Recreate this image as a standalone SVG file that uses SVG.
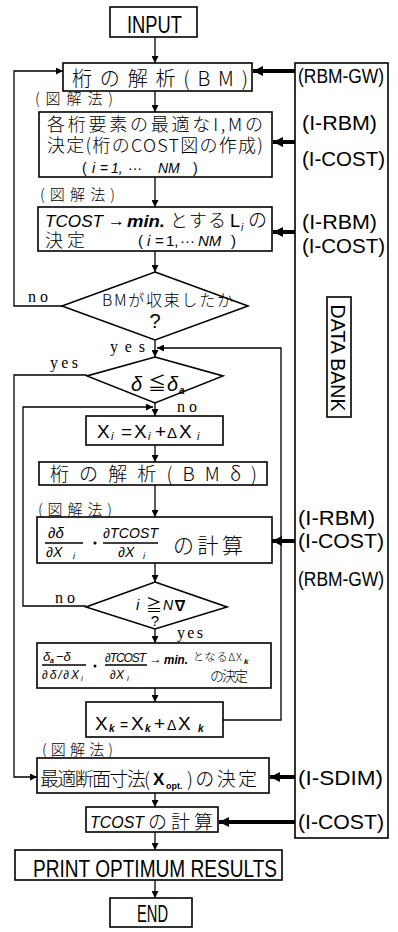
<svg xmlns="http://www.w3.org/2000/svg" width="398" height="932" viewBox="0 0 398 932">
<style>
.box{fill:none;stroke:#000;stroke-width:1.6}
.ln{fill:none;stroke:#000;stroke-width:1.3}
.thk{fill:none;stroke:#000;stroke-width:4}
.t{font-family:"Liberation Sans","Noto Sans CJK JP",sans-serif;fill:#000}
.j{font-family:"Noto Sans CJK JP","Liberation Sans",sans-serif;fill:#000;font-weight:300}
.s{font-family:"Liberation Serif",serif;fill:#000}
.it{font-style:italic}
.bi{font-style:italic;font-weight:bold}
</style>
<defs>
<marker id="a" viewBox="0 0 10 10" refX="10" refY="5" markerWidth="8" markerHeight="7" orient="auto" markerUnits="userSpaceOnUse"><path d="M0,0 L10,5 L0,10 z" fill="#000"/></marker>
<marker id="b" viewBox="0 0 10 10" refX="10" refY="5" markerWidth="10" markerHeight="10" orient="auto" markerUnits="userSpaceOnUse"><path d="M0,0 L10,5 L0,10 z" fill="#000"/></marker>
</defs>

<g id="connectors">
<line class="ln" x1="155" y1="37" x2="155" y2="63" marker-end="url(#a)"/>
<line class="ln" x1="155" y1="91" x2="155" y2="112" marker-end="url(#a)"/>
<line class="ln" x1="155" y1="177" x2="155" y2="207" marker-end="url(#a)"/>
<line class="ln" x1="155" y1="251" x2="155" y2="272" marker-end="url(#a)"/>
<polyline class="ln" points="62,306 14,306 14,71 63,71" marker-end="url(#a)"/>
<line class="ln" x1="155" y1="340" x2="155" y2="357" marker-end="url(#a)"/>
<polyline class="ln" points="223,720 281,720 281,348 157,348" marker-end="url(#a)"/>
<polyline class="ln" points="87,375 14,375 14,777 37,777" marker-end="url(#a)"/>
<line class="ln" x1="155" y1="403" x2="155" y2="416" marker-end="url(#a)"/>
<polyline class="ln" points="86,606 23,606 23,407 153,407" marker-end="url(#a)"/>
<line class="ln" x1="155" y1="445" x2="155" y2="462" marker-end="url(#a)"/>
<line class="ln" x1="155" y1="485" x2="155" y2="517" marker-end="url(#a)"/>
<line class="ln" x1="155" y1="563" x2="155" y2="582" marker-end="url(#a)"/>
<line class="ln" x1="155" y1="629" x2="155" y2="643" marker-end="url(#a)"/>
<line class="ln" x1="155" y1="688" x2="155" y2="702" marker-end="url(#a)"/>
<line class="ln" x1="155" y1="793" x2="155" y2="807" marker-end="url(#a)"/>
<line class="ln" x1="155" y1="832" x2="155" y2="850" marker-end="url(#a)"/>
<line class="ln" x1="155" y1="880" x2="155" y2="898" marker-end="url(#a)"/>
<line class="thk" x1="295" y1="71" x2="253" y2="71" marker-end="url(#b)"/>
<line class="thk" x1="295" y1="142" x2="273" y2="142" marker-end="url(#b)"/>
<line class="thk" x1="295" y1="232" x2="273" y2="232" marker-end="url(#b)"/>
<line class="thk" x1="295" y1="541" x2="272" y2="541" marker-end="url(#b)"/>
<line class="thk" x1="295" y1="777" x2="270" y2="777" marker-end="url(#b)"/>
<line class="thk" x1="295" y1="822" x2="219" y2="822" marker-end="url(#b)"/>
</g>

<g id="input">
<rect class="box" x="110" y="7" width="87" height="30"/>
<text class="t" x="127" y="33" font-size="23" textLength="55" lengthAdjust="spacingAndGlyphs">INPUT</text>
</g>

<g id="bm">
<rect class="box" x="63" y="63" width="189" height="28"/>
<text class="j" x="72" y="86" font-size="20" textLength="176" lengthAdjust="spacing">桁の解析(BM)</text>
</g>

<g id="label1"><text class="j" x="35" y="104" font-size="15" textLength="78" lengthAdjust="spacing">(図解法)</text></g>

<g id="optim-IM">
<rect class="box" x="39" y="112" width="233" height="65"/>
<text class="j" x="47" y="131" font-size="18" textLength="216" lengthAdjust="spacing">各桁要素の最適なI,Mの</text>
<text class="j" x="47" y="152" font-size="18" textLength="216" lengthAdjust="spacing">決定(桁のCOST図の作成)</text>
<text class="t" y="173" font-size="14"><tspan x="82">(</tspan><tspan x="92" class="it">i</tspan><tspan x="100">=</tspan><tspan x="111" class="it">1,</tspan><tspan x="128">···</tspan><tspan x="158" class="it">NM</tspan><tspan x="193">)</tspan></text>
</g>

<g id="label2"><text class="j" x="40" y="200" font-size="15" textLength="75" lengthAdjust="spacing">(図解法)</text></g>

<g id="tcost-min">
<rect class="box" x="38" y="207" width="234" height="44"/>
<text class="t it" x="45" y="227" font-size="17" textLength="58" lengthAdjust="spacingAndGlyphs">TCOST</text>
<text class="t" x="108" y="226" font-size="16" textLength="17" lengthAdjust="spacingAndGlyphs">→</text>
<text class="t bi" x="127" y="227" font-size="17" textLength="38" lengthAdjust="spacingAndGlyphs">min.</text>
<text class="j" x="170" y="227" font-size="18" textLength="56" lengthAdjust="spacing">とする</text>
<text class="t" x="230" y="227" font-size="18">L</text>
<text class="t it" x="241" y="231" font-size="10">i</text>
<text class="j" x="248" y="227" font-size="19">の</text>
<text class="j" x="45" y="247" font-size="18" textLength="40" lengthAdjust="spacing">決定</text>
<text class="t" y="246" font-size="15"><tspan x="138">(</tspan><tspan x="147" class="it">i</tspan><tspan x="155">=</tspan><tspan x="166">1,</tspan><tspan x="180">···</tspan><tspan x="198" class="it">NM</tspan><tspan x="231">)</tspan></text>
</g>

<g id="dec-converge">
<polygon class="box" points="155,272 248,306 155,340 62,306"/>
<text class="j" x="102" y="306" font-size="16" textLength="131" lengthAdjust="spacing">BMが収束したか</text>
<text class="t" x="155" y="328" font-size="20" text-anchor="middle">?</text>
<text class="s" x="28" y="302" font-size="16" textLength="20" lengthAdjust="spacing">no</text>
<text class="s" x="110" y="352" font-size="16" textLength="35" lengthAdjust="spacing">yes</text>
</g>

<g id="dec-delta">
<polygon class="box" points="155,357 223,376 155,403 87,376"/>
<text class="t it" x="131" y="391" font-size="20">δ</text>
<text class="t" x="148" y="390" font-size="18">≦</text>
<text class="t it" x="167" y="391" font-size="20">δ</text>
<text class="t it bi" x="179" y="394" font-size="10">a</text>
<text class="s" x="50" y="368" font-size="16" textLength="28" lengthAdjust="spacing">yes</text>
<text class="s" x="177" y="412" font-size="16" textLength="20" lengthAdjust="spacing">no</text>
</g>

<g id="xi-update">
<rect class="box" x="86" y="416" width="137" height="29"/>
<text class="t" y="438" font-size="19"><tspan x="97">X</tspan><tspan x="111" dy="2" font-size="11" class="it">i</tspan><tspan x="121" dy="-2">=</tspan><tspan x="134">X</tspan><tspan x="148" dy="2" font-size="11" class="it">i</tspan><tspan x="155" dy="-2">+</tspan><tspan x="167" font-size="15">Δ</tspan><tspan x="179">X</tspan><tspan x="197" dy="2" font-size="11" class="it">i</tspan></text>
</g>

<g id="bm-delta">
<rect class="box" x="39" y="462" width="228" height="23"/>
<text class="j" x="50" y="481" font-size="19" textLength="207" lengthAdjust="spacing">桁の解析(BMδ)</text>
</g>

<g id="label3"><text class="j" x="38" y="515" font-size="15" textLength="74" lengthAdjust="spacing">(図解法)</text></g>

<g id="sensitivity">
<rect class="box" x="37" y="517" width="235" height="46"/>
<text class="t it" x="48" y="538" font-size="15">∂δ</text>
<line class="ln" x1="45" y1="543" x2="83" y2="543" stroke-width="1"/>
<text class="t it" x="46" y="557" font-size="14">∂X</text>
<text class="t it" x="73" y="559" font-size="9">i</text>
<circle cx="95" cy="543" r="1.6" fill="#000"/>
<text class="t it" x="103" y="538" font-size="14" textLength="55" lengthAdjust="spacing">∂TCOST</text>
<line class="ln" x1="103" y1="543" x2="158" y2="543" stroke-width="1"/>
<text class="t it" x="118" y="557" font-size="14">∂X</text>
<text class="t it" x="143" y="559" font-size="9">i</text>
<text class="j" x="173" y="553" font-size="21" textLength="70" lengthAdjust="spacing">の計算</text>
</g>

<g id="dec-count">
<polygon class="box" points="155,582 227,607 155,629 86,607"/>
<text class="t it" x="136" y="610" font-size="15">i</text>
<text class="t" x="146" y="611" font-size="16">≧</text>
<text class="t it" x="163" y="610" font-size="14">N</text>
<text class="t" x="173" y="610" font-size="14" font-weight="bold">∇</text>
<text class="t" x="155" y="626" font-size="15" text-anchor="middle">?</text>
<text class="s" x="55" y="603" font-size="16" textLength="20" lengthAdjust="spacing">no</text>
<text class="s" x="177" y="638" font-size="16" textLength="26" lengthAdjust="spacing">yes</text>
</g>

<g id="step-size">
<rect class="box" x="37" y="643" width="234" height="45"/>
<text class="t it" x="43" y="661" font-size="13">δ</text>
<text class="t it bi" x="50" y="663" font-size="7">a</text>
<text class="t it" x="56" y="661" font-size="13">−δ</text>
<line class="ln" x1="42" y1="665" x2="86" y2="665" stroke-width="1"/>
<text class="t it" x="42" y="679" font-size="12" textLength="37" lengthAdjust="spacing">∂δ/∂X</text>
<text class="t it" x="81" y="681" font-size="8">i</text>
<circle cx="95" cy="666" r="1.5" fill="#000"/>
<text class="t it" x="105" y="662" font-size="12" textLength="41" lengthAdjust="spacing">∂TCOST</text>
<line class="ln" x1="105" y1="665" x2="147" y2="665" stroke-width="1"/>
<text class="t it" x="110" y="679" font-size="12">∂X</text>
<text class="t it" x="127" y="681" font-size="8">i</text>
<text class="t" x="149" y="663" font-size="12" textLength="13" lengthAdjust="spacingAndGlyphs">→</text>
<text class="t bi" x="164" y="664" font-size="12" textLength="24" lengthAdjust="spacingAndGlyphs">min.</text>
<text class="j" x="193" y="661" font-size="11" textLength="49" lengthAdjust="spacing">となるΔX</text>
<text class="t it bi" x="244" y="664" font-size="8">k</text>
<text class="j" x="210" y="681" font-size="14" textLength="38" lengthAdjust="spacing">の決定</text>
</g>

<g id="xk-update">
<rect class="box" x="86" y="702" width="137" height="35"/>
<text class="t" y="730" font-size="19"><tspan x="95">X</tspan><tspan x="109" dy="2" font-size="10" class="bi">k</tspan><tspan x="120" dy="-2" font-size="14">=</tspan><tspan x="131">X</tspan><tspan x="145" dy="2" font-size="10" class="bi">k</tspan><tspan x="154" dy="-2">+</tspan><tspan x="167" font-size="14">Δ</tspan><tspan x="178">X</tspan><tspan x="198" dy="2" font-size="10" class="bi">k</tspan></text>
</g>

<g id="label4"><text class="j" x="42" y="755" font-size="15" textLength="71" lengthAdjust="spacing">(図解法)</text></g>

<g id="opt-section">
<rect class="box" x="37" y="758" width="232" height="35"/>
<text class="j" x="40" y="786" font-size="19" textLength="110" lengthAdjust="spacing">最適断面寸法(</text>
<text class="t" x="153" y="785" font-size="17" font-weight="bold">X</text>
<text class="t" x="166" y="789" font-size="9" font-weight="bold">opt.</text>
<text class="j" x="187" y="786" font-size="19" textLength="70" lengthAdjust="spacing">)の決定</text>
</g>

<g id="tcost-calc">
<rect class="box" x="86" y="807" width="132" height="25"/>
<text class="t it" x="90" y="828" font-size="17" textLength="54" lengthAdjust="spacingAndGlyphs">TCOST</text>
<text class="j" x="148" y="829" font-size="19" textLength="65" lengthAdjust="spacing">の計算</text>
</g>

<g id="print">
<rect class="box" x="15" y="850" width="267" height="30"/>
<text class="t" x="33" y="877" font-size="23" textLength="244" lengthAdjust="spacingAndGlyphs">PRINT OPTIMUM RESULTS</text>
</g>

<g id="end">
<rect class="box" x="110" y="898" width="82" height="29"/>
<text class="t" x="137" y="922" font-size="23" textLength="31" lengthAdjust="spacingAndGlyphs">END</text>
</g>

<g id="databank">
<rect class="box" x="295" y="63" width="93" height="775"/>
<rect class="box" x="327" y="297" width="24" height="120"/>
<text class="t" x="0" y="0" font-size="21" text-anchor="middle" transform="translate(331,358) rotate(90)" textLength="107" lengthAdjust="spacingAndGlyphs">DATA BANK</text>
<text class="t" x="0" y="0" font-size="21" transform="translate(298,83) scale(0.83,1)">(RBM-GW)</text>
<text class="t" x="302" y="130" font-size="21" textLength="75" lengthAdjust="spacingAndGlyphs">(I-RBM)</text>
<text class="t" x="302" y="166" font-size="21" textLength="83" lengthAdjust="spacingAndGlyphs">(I-COST)</text>
<text class="t" x="302" y="229" font-size="21" textLength="75" lengthAdjust="spacingAndGlyphs">(I-RBM)</text>
<text class="t" x="302" y="253" font-size="21" textLength="83" lengthAdjust="spacingAndGlyphs">(I-COST)</text>
<text class="t" x="298" y="525" font-size="21" textLength="77" lengthAdjust="spacingAndGlyphs">(I-RBM)</text>
<text class="t" x="298" y="548" font-size="21" textLength="86" lengthAdjust="spacingAndGlyphs">(I-COST)</text>
<text class="t" x="0" y="0" font-size="21" transform="translate(298,586) scale(0.83,1)">(RBM-GW)</text>
<text class="t" x="298" y="785" font-size="21" textLength="85" lengthAdjust="spacingAndGlyphs">(I-SDIM)</text>
<text class="t" x="298" y="829" font-size="21" textLength="86" lengthAdjust="spacingAndGlyphs">(I-COST)</text>
</g>
</svg>
